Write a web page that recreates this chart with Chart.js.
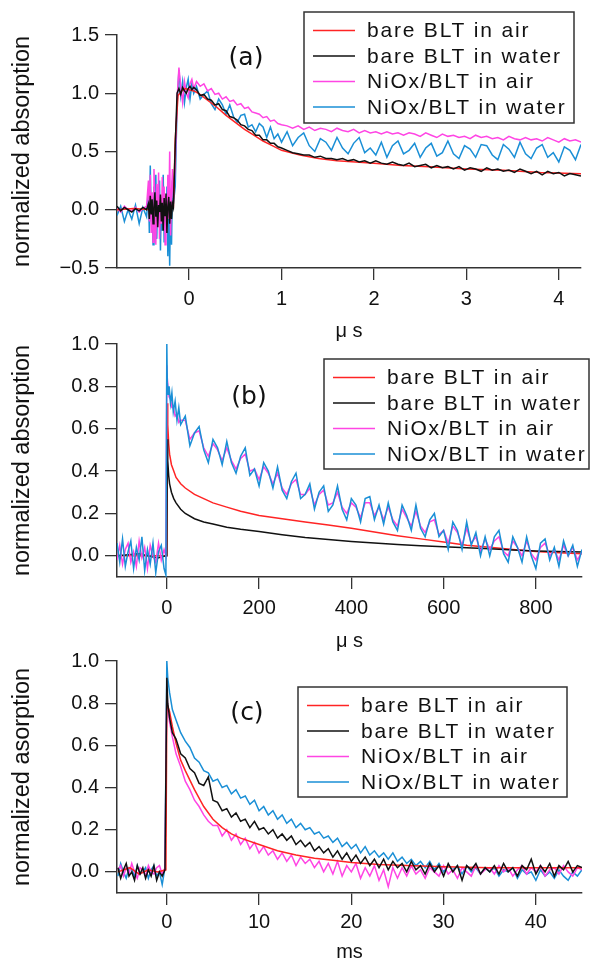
<!DOCTYPE html>
<html>
<head>
<meta charset="utf-8">
<script src="https://cdn.jsdelivr.net/npm/chart.js@4/dist/chart.umd.min.js"></script>
<style>
  body { margin: 0; background: #fff; }
  .wrap { position: relative; width: 593px; height: 962px; }
  .wrap canvas { position: absolute; left: 0; top: 0; }
</style>
</head>
<body>
<div class="wrap">
  <canvas id="pa" width="593" height="962"></canvas>
  <canvas id="pb" width="593" height="962"></canvas>
  <canvas id="pc" width="593" height="962"></canvas>
</div>
<script>
// 凡例ラベル（データセットの並び順）
const names = ['bare BLT in air', 'bare BLT in water', 'NiOx/BLT in air', 'NiOx/BLT in water'];

// ---- (a) µs scale ----
const tA = [
  -0.78,-0.74,-0.70,-0.66,-0.62,-0.58,-0.54,-0.50,-0.46,
  -0.44,-0.43,-0.42,-0.41,-0.40,-0.39,-0.38,-0.37,-0.36,-0.35,-0.34,-0.33,-0.32,-0.31,
  -0.30,-0.29,-0.28,-0.27,-0.26,-0.25,-0.24,-0.23,-0.22,-0.21,-0.20,-0.19,-0.18,-0.17,
  -0.15,-0.13,-0.11,-0.09,-0.07,-0.05,-0.03,-0.01,0.01,0.03,0.05,
  0.08,0.12,0.16,0.20,0.24,0.28,0.32,0.36,0.40,0.44,0.48,0.52,
  0.56,0.60,0.64,0.68,0.72,0.76,0.80,0.84,0.88,0.92,0.96,1.00,
  1.06,1.12,1.18,1.24,1.30,1.36,1.42,1.48,1.54,1.60,1.66,1.72,1.78,1.84,1.90,1.96,2.02,2.08,
  2.14,2.20,2.26,2.32,2.38,2.44,2.50,2.56,2.62,2.68,2.74,2.80,2.86,2.92,2.98,3.04,3.10,3.16,
  3.22,3.28,3.34,3.40,3.46,3.52,3.58,3.64,3.70,3.76,3.82,3.88,3.94,4.00,4.06,4.12,4.18,4.24
];
const tA_air = [-0.78,-0.6,-0.4,-0.2,-0.17,-0.15,-0.12,-0.08,-0.04,0,0.05,0.1,0.2,0.3,0.4,0.5,0.6,0.7,0.8,0.9,
  1.0,1.2,1.4,1.6,1.8,2.0,2.3,2.6,3.0,3.4,3.8,4.24];
const bareAirA = [0.0,0.01,0.0,0.01,0.02,0.6,0.98,1.02,1.04,1.03,1.02,1.0,0.94,0.88,0.81,0.75,0.69,0.64,0.59,0.55,
  0.51,0.47,0.44,0.42,0.41,0.40,0.38,0.37,0.35,0.34,0.32,0.31];
const bareWaterA = [
  0.03,-0.01,0.02,0.00,-0.02,0.01,-0.01,0.02,0.00,
  0.05,-0.08,0.12,-0.04,0.09,-0.12,0.02,0.15,-0.06,0.08,-0.15,0.04,-0.02,0.13,
  -0.10,0.06,-0.18,0.10,-0.05,0.14,-0.20,0.03,0.11,-0.12,0.07,-0.08,0.05,0.02,
  0.55,1.00,1.04,0.99,1.05,1.02,1.00,1.04,1.06,1.03,1.05,
  1.03,0.98,0.99,0.95,0.94,0.90,0.91,0.86,0.85,0.80,0.79,0.77,
  0.73,0.72,0.69,0.68,0.64,0.64,0.60,0.60,0.57,0.57,0.54,0.53,
  0.51,0.49,0.48,0.47,0.47,0.45,0.46,0.44,0.44,0.43,0.44,0.42,0.43,0.41,0.42,0.40,0.42,0.40,
  0.39,0.41,0.39,0.38,0.40,0.37,0.38,0.39,0.36,0.38,0.36,0.37,0.35,0.37,0.34,0.36,0.35,0.33,
  0.36,0.34,0.35,0.33,0.34,0.32,0.35,0.33,0.31,0.33,0.30,0.33,0.31,0.32,0.29,0.31,0.30,0.29
];
const niAirA = [
  0.01,-0.02,0.03,0.00,-0.01,0.02,-0.02,0.01,0.03,
  0.25,-0.10,0.30,-0.20,0.15,-0.28,0.35,0.05,-0.30,0.22,-0.15,0.32,-0.25,0.10,
  -0.12,0.28,-0.05,0.20,-0.30,0.12,-0.18,0.30,-0.08,0.50,-0.22,0.15,0.35,0.10,
  0.40,0.95,1.22,1.05,0.92,1.10,1.00,0.96,1.08,1.12,1.04,
  1.10,1.06,1.08,1.02,1.04,0.99,1.00,0.95,0.97,0.93,0.94,0.90,
  0.91,0.87,0.88,0.84,0.83,0.82,0.79,0.80,0.76,0.77,0.74,0.73,
  0.72,0.70,0.72,0.69,0.71,0.68,0.70,0.69,0.67,0.70,0.68,0.67,0.69,0.66,0.68,0.66,0.67,0.65,
  0.67,0.65,0.66,0.64,0.66,0.65,0.63,0.66,0.64,0.62,0.65,0.63,0.64,0.62,0.63,0.61,0.64,0.62,
  0.63,0.61,0.62,0.60,0.63,0.61,0.60,0.62,0.60,0.61,0.59,0.62,0.60,0.58,0.61,0.59,0.60,0.58
];
const niWaterA = [
  -0.05,0.03,-0.10,0.00,-0.08,0.04,-0.12,0.02,-0.06,
  0.15,-0.20,0.38,-0.10,0.05,-0.30,0.20,-0.15,0.30,-0.25,0.10,-0.05,0.25,-0.35,
  0.08,-0.18,0.30,-0.28,0.12,-0.10,0.20,-0.40,0.05,-0.48,0.10,-0.30,0.25,0.05,
  0.20,0.90,1.20,0.98,1.10,0.92,1.05,1.12,0.95,1.08,1.00,
  1.06,0.95,0.99,1.02,0.91,0.86,0.95,0.90,0.82,0.90,0.80,0.75,
  0.81,0.82,0.71,0.73,0.67,0.74,0.71,0.62,0.71,0.61,0.65,0.58,
  0.67,0.55,0.62,0.66,0.55,0.50,0.61,0.58,0.51,0.62,0.53,0.48,0.57,0.62,0.49,0.53,0.47,0.58,
  0.45,0.55,0.59,0.48,0.51,0.57,0.45,0.53,0.57,0.46,0.49,0.59,0.48,0.44,0.55,0.52,0.45,0.56,
  0.55,0.47,0.43,0.56,0.52,0.45,0.58,0.48,0.44,0.53,0.56,0.45,0.49,0.41,0.54,0.51,0.43,0.56
];
const xTicksA = [0, 1, 2, 3, 4];
const yTicksA = [-0.5, 0, 0.5, 1.0, 1.5];

// ---- (b) µs scale ----
const tB = [
  -108,-102,-96,-90,-84,-78,-72,-66,-60,-54,-48,-42,-36,-30,-24,-18,-12,-6,
  -2,0,1,3,5,8,11,14,18,22,26,30,
  40,50,60,70,80,90,100,110,120,130,140,150,160,170,180,190,200,210,220,230,240,250,
  260,270,280,290,300,310,320,330,340,350,360,370,380,390,400,410,420,430,440,450,460,470,
  480,490,500,510,520,530,540,550,560,570,580,590,600,610,620,630,640,650,660,670,680,690,
  700,710,720,730,740,750,760,770,780,790,800,810,820,830,840,850,860,870,880,890,900
];
const tB_bare = [-108,-60,-20,-2,0,1,2,4,6,10,15,20,30,40,60,80,100,130,160,200,
  250,300,350,400,450,500,550,600,650,700,750,800,850,900];
const bareAirB = [0.0,0.0,0.0,0.0,0.0,0.72,0.62,0.53,0.48,0.43,0.40,0.37,0.34,0.32,0.29,0.27,0.25,0.23,0.21,0.19,
  0.175,0.16,0.145,0.13,0.112,0.095,0.08,0.065,0.05,0.04,0.03,0.02,0.015,0.01];
const bareWaterB = [0.0,0.01,-0.01,0.0,0.0,0.55,0.45,0.38,0.34,0.30,0.27,0.25,0.22,0.20,0.175,0.16,0.15,0.135,0.125,0.115,
  0.10,0.087,0.077,0.068,0.06,0.053,0.048,0.043,0.038,0.033,0.028,0.023,0.02,0.018];
const niAirB = [
  -0.02,0.05,-0.04,0.03,0.06,-0.03,0.02,-0.05,0.07,-0.01,0.04,-0.06,0.05,0.00,-0.03,0.06,-0.02,0.03,
  0.00,0.90,0.84,0.78,0.75,0.74,0.70,0.70,0.66,0.67,0.63,0.64,
  0.64,0.55,0.58,0.59,0.51,0.47,0.53,0.50,0.45,0.51,0.45,0.41,0.46,0.48,0.40,0.41,0.36,0.42,0.39,0.34,0.39,0.32,
  0.29,0.34,0.36,0.29,0.29,0.32,0.24,0.29,0.31,0.24,0.25,0.30,0.23,0.20,0.25,0.23,0.18,0.25,0.25,0.19,0.23,0.17,
  0.23,0.17,0.14,0.22,0.18,0.14,0.21,0.14,0.11,0.16,0.17,0.10,0.12,0.06,0.14,0.11,0.05,0.13,0.06,0.09,0.02,0.08,
  0.03,0.07,0.09,0.02,0.00,0.07,0.04,0.00,0.07,0.01,-0.02,0.04,0.06,0.00,0.03,-0.02,0.05,0.00,0.04,-0.02,0.02
];
const niWaterB = [
  0.06,-0.03,0.08,-0.05,0.02,0.07,-0.06,0.04,-0.02,0.09,-0.07,0.03,-0.04,0.06,-0.08,0.02,0.05,-0.06,
  -0.09,1.00,0.82,0.76,0.80,0.72,0.77,0.68,0.73,0.64,0.70,0.62,
  0.66,0.52,0.58,0.61,0.50,0.44,0.55,0.51,0.43,0.54,0.44,0.39,0.47,0.51,0.38,0.41,0.33,0.44,0.40,0.32,0.42,0.31,
  0.27,0.35,0.39,0.27,0.29,0.34,0.22,0.30,0.33,0.21,0.24,0.33,0.22,0.17,0.27,0.24,0.16,0.27,0.28,0.17,0.24,0.15,
  0.25,0.16,0.12,0.24,0.19,0.12,0.24,0.13,0.09,0.17,0.20,0.09,0.12,0.03,0.16,0.12,0.03,0.16,0.05,0.11,0.00,0.09,
  0.00,0.09,0.12,0.01,-0.03,0.09,0.04,-0.03,0.09,0.00,-0.06,0.06,0.08,-0.02,0.04,-0.05,0.07,0.00,0.05,-0.05,0.03
];
const xTicksB = [0, 200, 400, 600, 800];
const yTicksB = [0, 0.2, 0.4, 0.6, 0.8, 1.0];

// ---- (c) ms scale ----
const tC = [
  -5.3,-5.0,-4.7,-4.4,-4.1,-3.8,-3.5,-3.2,-2.9,-2.6,-2.3,-2.0,-1.7,-1.4,-1.1,-0.8,-0.5,-0.2,
  0,0.1,0.3,0.6,1.0,1.5,2.0,2.5,3.0,3.5,4.0,4.5,5.0,
  5.5,6,6.5,7,7.5,8,8.5,9,9.5,10,10.5,11,11.5,12,12.5,13,13.5,14,14.5,15,
  15.5,16,16.5,17,17.5,18,18.5,19,19.5,20,20.5,21,21.5,22,22.5,23,23.5,24,24.5,25,
  25.5,26,26.5,27,27.5,28,28.5,29,29.5,30,30.5,31,31.5,32,32.5,33,33.5,34,34.5,35,
  35.5,36,36.5,37,37.5,38,38.5,39,39.5,40,40.5,41,41.5,42,42.5,43,43.5,44,44.5,45
];
const tC_air = [-5.3,-4,-3,-2,-1,-0.1,0,0.3,0.6,1,1.5,2,3,4,5,6,7,8,10,12,14,16,18,20,23,26,30,35,40,45];
const bareAirC = [0.0,0.02,-0.01,0.01,0.0,0.01,0.80,0.76,0.69,0.61,0.53,0.48,0.39,0.31,0.25,0.21,0.18,
  0.16,0.13,0.10,0.08,0.065,0.055,0.045,0.035,0.03,0.025,0.02,0.02,0.02];
const bareWaterC = [
  0.02,-0.03,0.01,0.04,-0.02,0.00,-0.04,0.03,-0.01,0.02,-0.03,0.01,-0.02,0.03,-0.04,0.00,-0.02,0.01,
  0.92,0.80,0.73,0.66,0.63,0.56,0.54,0.49,0.47,0.42,0.41,0.45,0.34,
  0.33,0.29,0.30,0.26,0.28,0.24,0.25,0.21,0.24,0.20,0.21,0.18,0.20,0.16,0.18,0.15,0.17,0.13,0.15,0.12,
  0.14,0.10,0.12,0.09,0.11,0.07,0.10,0.06,0.09,0.05,0.08,0.04,0.07,0.03,0.06,0.02,0.06,0.01,0.05,0.02,
  0.04,0.00,0.05,0.01,0.03,-0.01,0.04,0.00,0.03,-0.02,0.04,0.00,0.03,-0.04,0.03,0.01,0.04,-0.01,0.02,0.00,
  0.03,-0.01,0.04,0.00,0.02,-0.02,0.03,0.01,0.06,-0.01,0.03,0.00,0.04,-0.02,0.03,0.01,0.05,0.00,0.03,0.02
];
const niAirC = [
  0.01,0.03,-0.02,0.02,-0.01,0.04,0.00,-0.03,0.02,0.01,-0.02,0.03,0.00,-0.01,0.02,0.03,-0.01,0.02,
  0.86,0.78,0.71,0.64,0.56,0.50,0.43,0.39,0.34,0.31,0.27,0.24,0.22,
  0.22,0.17,0.20,0.15,0.18,0.13,0.16,0.11,0.14,0.09,0.12,0.08,0.10,0.06,0.09,0.05,0.08,0.03,0.07,0.04,
  0.06,0.02,0.05,0.00,0.04,-0.01,0.05,-0.02,0.03,0.00,0.04,-0.03,0.02,-0.02,0.03,-0.04,0.01,-0.07,0.02,-0.03,
  0.02,-0.02,0.03,-0.01,0.01,-0.03,0.02,0.00,-0.02,0.03,-0.01,0.01,-0.03,0.02,0.00,-0.02,0.03,-0.01,0.01,0.02,
  -0.01,0.03,0.00,0.02,-0.02,0.01,0.03,-0.01,0.02,0.00,0.03,-0.02,0.01,0.02,-0.01,0.03,0.00,-0.02,0.02,0.01
];
const niWaterC = [
  -0.02,0.04,0.00,-0.03,0.02,0.01,-0.02,0.03,-0.01,0.00,0.02,-0.03,0.01,0.03,-0.02,0.00,-0.06,0.02,
  1.00,0.92,0.85,0.77,0.72,0.66,0.62,0.59,0.54,0.52,0.48,0.47,0.43,
  0.44,0.40,0.41,0.37,0.39,0.35,0.36,0.32,0.34,0.29,0.31,0.27,0.29,0.25,0.27,0.23,0.25,0.21,0.23,0.20,
  0.21,0.18,0.19,0.16,0.17,0.14,0.16,0.12,0.14,0.11,0.13,0.09,0.12,0.08,0.10,0.07,0.09,0.06,0.09,0.05,
  0.07,0.04,0.06,0.03,0.05,0.02,0.05,0.01,0.04,0.00,0.03,0.01,0.03,-0.01,0.03,0.00,0.02,-0.01,0.02,0.00,
  0.02,-0.02,0.01,0.00,0.02,-0.03,0.01,-0.01,0.00,-0.04,0.01,-0.02,0.00,-0.03,0.01,-0.02,-0.04,0.00,-0.02,0.01
];
const xTicksC = [0, 10, 20, 30, 40];
const yTicksC = [0, 0.2, 0.4, 0.6, 0.8, 1.0];

// 見た目の設定
const colors = ['#ff2424', '#111111', '#ff45e4', '#1a8fd6'];
const W = 593, H = 962;
const FAM = '"Liberation Sans", Arial, sans-serif';
Chart.defaults.font.family = FAM;

const fmtY = v => (v < 0 ? '\u2212' : '') + Math.abs(v).toFixed(1);

// 凡例の枠とパネル記号を描く
const decor = {
  id: 'decor',
  afterDraw(chart, args, o) {
    const ctx = chart.ctx;
    ctx.save();
    ctx.fillStyle = '#111';
    ctx.font = '25px "DejaVu Sans", sans-serif';
    ctx.textAlign = 'center';
    ctx.textBaseline = 'middle';
    ctx.fillText(o.tag, o.tagX, o.tagY);

    const b = o.box;
    ctx.strokeStyle = '#333';
    ctx.lineWidth = 1.5;
    ctx.strokeRect(b.x, b.y, b.w, b.h);
    ctx.font = '21px ' + FAM;
    ctx.textAlign = 'left';
    if ('letterSpacing' in ctx) ctx.letterSpacing = '1.8px';
    chart.data.datasets.forEach((ds, i) => {
      const yy = b.y + 18.5 + i * 25.5;
      ctx.strokeStyle = ds.borderColor;
      ctx.lineWidth = 1.6;
      ctx.beginPath();
      ctx.moveTo(b.x + 9, yy);
      ctx.lineTo(b.x + 51, yy);
      ctx.stroke();
      ctx.fillText(ds.label, b.x + 63, yy + 1);
    });
    ctx.restore();
  }
};

const gridOpt = {drawOnChartArea: false, drawTicks: true, tickLength: 12, color: '#333', lineWidth: 1.3};
const borderOpt = {display: true, color: '#333', width: 1.5};

function panel(id, o) {
  const ds = o.series.map((s, i) => ({
    label: names[i],
    data: s[1].map((v, k) => ({x: s[0][k], y: v})),
    borderColor: colors[i],
    borderWidth: 1.5,
    pointRadius: 0,
    fill: false,
    order: o.order[i]
  }));
  return new Chart(document.getElementById(id), {
    type: 'line',
    data: {datasets: ds},
    options: {
      responsive: false,
      animation: false,
      events: [],
      layout: {padding: {left: 0, top: o.area.top, right: W - o.area.right, bottom: H - o.area.bottom - o.xh}},
      plugins: {legend: {display: false}, tooltip: {enabled: false}, decor: o.decor},
      scales: {
        x: {
          type: 'linear', min: o.xr[0], max: o.xr[1],
          afterBuildTicks: s => { s.ticks = o.xt.map(v => ({value: v})); },
          afterFit: s => { s.height = o.xh; },
          grid: gridOpt, border: borderOpt,
          ticks: {font: {size: 20}, color: '#111', padding: o.xpad, maxRotation: 0, autoSkip: false,
            callback: v => String(v)},
          title: {display: true, text: o.xTitle, color: '#111', font: {size: 20, lineHeight: 1}, padding: 0}
        },
        y: {
          min: o.yr[0], max: o.yr[1],
          afterBuildTicks: s => { s.ticks = o.yt.map(v => ({value: v})); },
          afterFit: s => { s.width = o.area.left; },
          grid: gridOpt, border: borderOpt,
          ticks: {font: {size: 20}, color: '#111', padding: 6, autoSkip: false, callback: fmtY},
          title: {display: true, text: o.yTitle, color: '#111', font: {size: 23.5, lineHeight: 1},
            padding: {top: 11, bottom: 0}}
        }
      }
    },
    plugins: [decor]
  });
}

panel('pa', {
  series: [[tA_air, bareAirA], [tA, bareWaterA], [tA, niAirA], [tA, niWaterA]],
  order: [1, 0, 2, 3],
  area: {left: 117, right: 581, top: 35, bottom: 268}, xh: 73, xpad: 7,
  xr: [-0.78, 4.24], yr: [-0.5, 1.5], xt: xTicksA, yt: yTicksA,
  xTitle: 'μ s', yTitle: 'normalized absorption',
  decor: {tag: '(a)', tagX: 246, tagY: 58, box: {x: 304, y: 12, w: 270, h: 111}}
});

panel('pb', {
  series: [[tB_bare, bareAirB], [tB_bare, bareWaterB], [tB, niAirB], [tB, niWaterB]],
  order: [3, 2, 1, 0],
  area: {left: 117, right: 582, top: 344, bottom: 577}, xh: 74, xpad: 7,
  xr: [-108, 900], yr: [-0.1, 1.0], xt: xTicksB, yt: yTicksB,
  xTitle: 'μ s', yTitle: 'normalized absorption',
  decor: {tag: '(b)', tagX: 249, tagY: 397, box: {x: 324, y: 359, w: 265, h: 110}}
});

panel('pc', {
  series: [[tC_air, bareAirC], [tC, bareWaterC], [tC, niAirC], [tC, niWaterC]],
  order: [1, 0, 2, 3],
  area: {left: 117, right: 582, top: 661, bottom: 893}, xh: 69, xpad: 5,
  xr: [-5.4, 45], yr: [-0.1, 1.0], xt: xTicksC, yt: yTicksC,
  xTitle: 'ms', yTitle: 'normalized asorption',
  decor: {tag: '(c)', tagX: 247, tagY: 713, box: {x: 298, y: 687, w: 269, h: 110}}
});
</script>
</body>
</html>
